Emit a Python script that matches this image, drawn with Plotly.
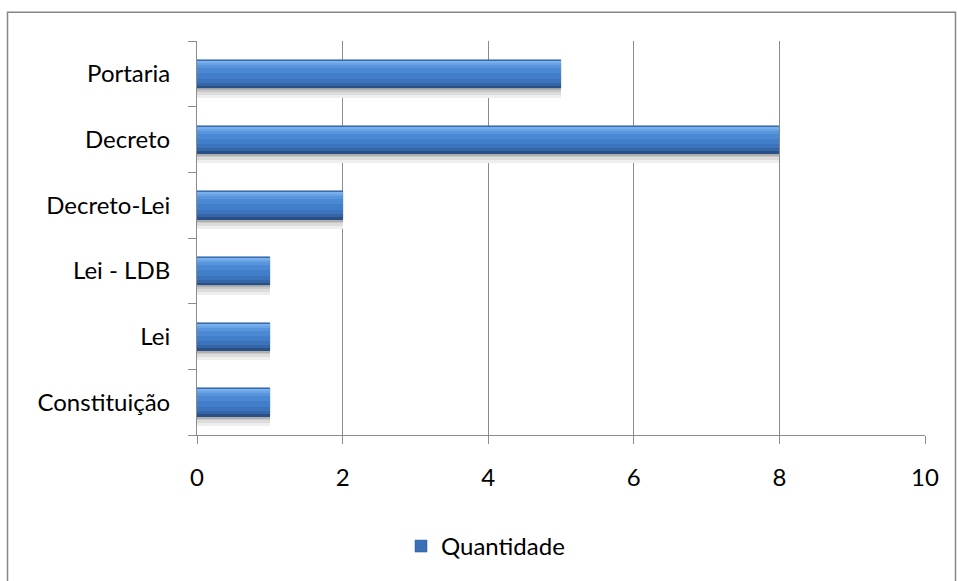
import plotly.graph_objects as go

# Number of legal instruments by type
categorias = ["Constituição", "Lei", "Lei - LDB", "Decreto-Lei", "Decreto", "Portaria"]
quantidade = [1, 1, 1, 2, 8, 5]
x_ticks = [0, 2, 4, 6, 8, 10]

W, H = 957, 581
L, R, T, B = 197, 925, 41, 437  # plot-area pixel bounds

PX = 1.0 / 66.0          # one pixel in category units
BAR = 28                 # bar thickness in pixels
HALF = BAR / 2 * PX

fig = go.Figure()

# soft shadow under each bar (each layer reaches the bar bottom, so no seams)
shadow = [(10, "rgba(238,238,238,1)"), (7, "rgba(220,220,220,1)"),
          (4, "rgba(200,200,200,1)"), (2, "rgba(175,175,175,1)")]
for d, c in shadow:
    fig.add_trace(go.Bar(
        y=categorias, x=quantidade, orientation="h",
        width=d * PX, offset=-HALF - d * PX,
        marker=dict(color=c, line=dict(width=0)),
        showlegend=False, hoverinfo="skip"))

# main bar body (also the legend entry)
fig.add_trace(go.Bar(
    y=categorias, x=quantidade, orientation="h", name="Quantidade",
    width=2 * HALF, offset=-HALF,
    marker=dict(color="#3A70B8", line=dict(color="#2B578F", width=0.5)),
    showlegend=True))

# shading layers: each starts a pixels below the top edge and runs to the bottom,
# drawn in order so every layer shows only between its start and the next one
bands = [(1, "#78AFEC"), (3, "#68A3E6"), (5, "#5895DD"), (8, "#4B89D5"),
         (13, "#427FCB"), (19, "#3B73BC"), (23, "#3465A6"), (26, "#284F86")]
for a, c in bands:
    fig.add_trace(go.Bar(
        y=categorias, x=quantidade, orientation="h",
        width=(BAR - a) * PX, offset=-HALF,
        marker=dict(color=c, line=dict(width=0)),
        showlegend=False, hoverinfo="skip"))

grid = "#8C8C8C"
font = dict(family="Lato, Carlito, Calibri, sans-serif", size=24, color="#000000")

fig.update_layout(
    width=W, height=H,
    margin=dict(l=L, r=W - R, t=T, b=H - B),
    paper_bgcolor="white", plot_bgcolor="white",
    barmode="overlay", bargap=0,
    font=font,
    xaxis=dict(range=[0, 10], tickvals=x_ticks, showgrid=True, gridcolor=grid,
               gridwidth=1, zeroline=False, showline=True, linecolor=grid,
               linewidth=1, ticks="outside", ticklen=8, tickcolor=grid,
               ticklabelstandoff=13, tickfont=font, fixedrange=True),
    yaxis=dict(type="category", categoryorder="array", categoryarray=categorias,
               range=[-0.5, 5.5], showgrid=False, zeroline=False, showline=True,
               linecolor=grid, linewidth=1, ticks="outside", ticklen=8,
               tickcolor=grid, tickson="boundaries", ticklabelstandoff=21,
               tickfont=font, fixedrange=True),
    legend=dict(orientation="h", x=(401 - L) / (R - L), xanchor="left",
                y=(B - 549) / (B - T), yanchor="middle", font=font,
                itemwidth=30, bgcolor="rgba(0,0,0,0)"),
    shapes=[dict(type="rect", xref="paper", yref="paper", layer="below",
                 x0=(7.5 - L) / (R - L), x1=(955.5 - L) / (R - L),
                 y0=(B - 590) / (B - T), y1=(B - 12) / (B - T),
                 line=dict(color="#868686", width=1.5), fillcolor="rgba(0,0,0,0)")],
)

fig.write_html("out.html")
